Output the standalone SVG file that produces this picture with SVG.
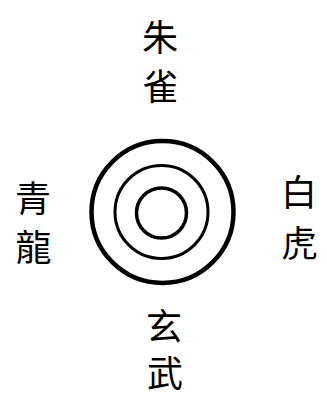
<svg xmlns="http://www.w3.org/2000/svg" width="327" height="396" viewBox="0 0 327 396">
<style>
.lbl{font-family:"Noto Sans CJK TC","Noto Sans CJK JP",sans-serif;font-size:36px;fill:#000;text-anchor:middle;dominant-baseline:central}
.ring{fill:none;stroke:#000}
</style>
<rect width="327" height="396" fill="#fff"/>
<g id="rings">
<circle class="ring" cx="162.5" cy="212" r="71" stroke-width="4.5"/>
<circle class="ring" cx="161.5" cy="212" r="46.5" stroke-width="3"/>
<circle class="ring" cx="161.5" cy="213" r="25" stroke-width="3.5"/>
</g>
<g id="south-top"><text class="lbl"><tspan x="160" y="35">朱</tspan><tspan x="160.5" y="84">雀</tspan></text></g>
<g id="east-left"><text class="lbl"><tspan x="33" y="196">青</tspan><tspan x="33.5" y="245">龍</tspan></text></g>
<g id="west-right"><text class="lbl"><tspan x="299" y="190">白</tspan><tspan x="299.5" y="241">虎</tspan></text></g>
<g id="north-bottom"><text class="lbl"><tspan x="164" y="324">玄</tspan><tspan x="165" y="371">武</tspan></text></g>
</svg>
